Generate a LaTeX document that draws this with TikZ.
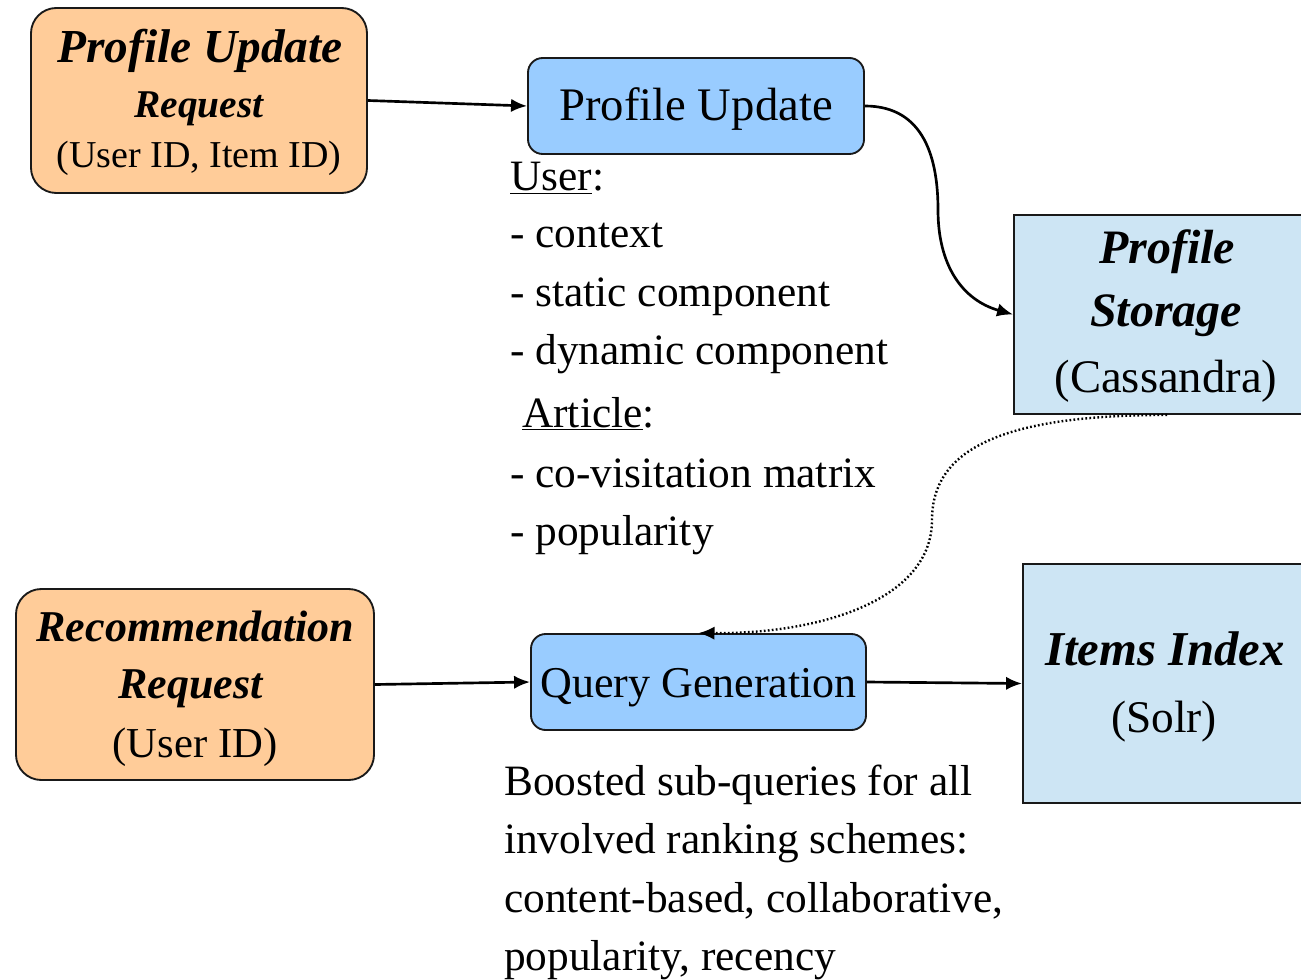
\documentclass[tikz,border=0pt]{standalone}
\usepackage{fontspec}
\setmainfont{Liberation Serif}
\usetikzlibrary{arrows.meta}
\definecolor{peach}{HTML}{FFCC99}
\definecolor{midblue}{HTML}{99CCFF}
\definecolor{paleblue}{HTML}{CDE5F4}
\newcommand\fsz[1]{\fontsize{#1}{#1}\selectfont}
\begin{document}
\begin{tikzpicture}[x=0.75pt,y=-0.75pt,
  box/.style={draw=black!90,line width=1.4pt,inner sep=0pt},
  reqbox/.style={box,fill=peach,rounded corners=19pt},
  procbox/.style={box,fill=midblue,rounded corners=11pt},
  storebox/.style={box,fill=paleblue},
  txt/.style={anchor=base,inner sep=0pt},
  ltxt/.style={anchor=base west,inner sep=0pt,font=\fsz{32.5}},
  conn/.style={line width=2pt,-{Latex[length=12pt,width=10pt]}}
]
\useasboundingbox (0,0) rectangle (1301,980);
\clip (0,0) rectangle (1301,980);

% boxes
\node[reqbox,minimum width=252pt,minimum height=138.75pt] (pur) at (199,100.5) {};
\node[procbox,minimum width=252pt,minimum height=72pt] (pu) at (696,106) {};
\node[storebox,minimum width=229.5pt,minimum height=149.25pt] (st) at (1167,314.5) {};
\node[reqbox,minimum width=268.5pt,minimum height=143.25pt] (rr) at (195,684.5) {};
\node[procbox,minimum width=251.25pt,minimum height=72pt] (qg) at (698.5,682) {};
\node[storebox,minimum width=213pt,minimum height=179.25pt] (ii) at (1165,683.5) {};

% texts in boxes
\node[txt,font=\fsz{35.5}\bfseries\itshape] (pur1) at (200,63) {Profile Update};
\node[txt,font=\fsz{29.5}\bfseries\itshape] (pur2) at (199,118) {Request};
\node[txt,font=\fsz{28.5}] (pur3) at (199,168) {(User ID, Item ID)};

\node[txt,font=\fsz{35}] (pu1) at (696,121) {Profile Update};

\node[txt,font=\fsz{36}\bfseries\itshape] (st1) at (1167,264) {Profile};
\node[txt,font=\fsz{36}\bfseries\itshape] (st2) at (1166,326) {Storage};
\node[txt,font=\fsz{35}] (st3) at (1166,392) {(Cassandra)};

\node[txt,font=\fsz{33}\bfseries\itshape] (rr1) at (195.5,641) {Recommendation};
\node[txt,font=\fsz{33}\bfseries\itshape] (rr2) at (190.5,698) {Request};
\node[txt,font=\fsz{32}] (rr3) at (195,757) {(User ID)};

\node[txt,font=\fsz{33}] (qg1) at (698.5,697) {Query Generation};

\node[txt,font=\fsz{36.5}\bfseries\itshape] (ii1) at (1165,665) {Items Index};
\node[txt,font=\fsz{34}] (ii2) at (1164,732) {(Solr)};

% lists
\node[ltxt] (l1) at (510,191) {\underline{User}:};
\node[ltxt] (l2) at (510,248) {- context};
\node[ltxt] (l3) at (510,306) {- static component};
\node[ltxt] (l4) at (510,364) {- dynamic component};
\node[ltxt] (l5) at (522,427) {\underline{Article}:};
\node[ltxt] (l6) at (510,487) {- co-visitation matrix};
\node[ltxt] (l7) at (510,545) {- popularity};

\node[ltxt] (b1) at (504,795) {Boosted sub-queries for all};
\node[ltxt] (b2) at (504,853) {involved ranking schemes:};
\node[ltxt] (b3) at (504,912) {content-based, collaborative,};
\node[ltxt] (b4) at (504,970) {popularity, recency};

% connectors
\draw[conn] (pur.east) -- (pu.west);
\draw[conn] (pu.east) .. controls (925,106) and (938,160) .. (938,210)
  .. controls (938,265) and (962,300) .. (st.west);
\draw[conn,line width=1.8pt,dash pattern=on 1.3pt off 1.7pt] (st.south) .. controls (1000,415) and (932,450) .. (932,520)
  .. controls (932,600) and (820,634) .. (qg.north);
\draw[conn] (rr.east) -- (qg.west);
\draw[conn] (qg.east) -- (ii.west);
\end{tikzpicture}
\end{document}
